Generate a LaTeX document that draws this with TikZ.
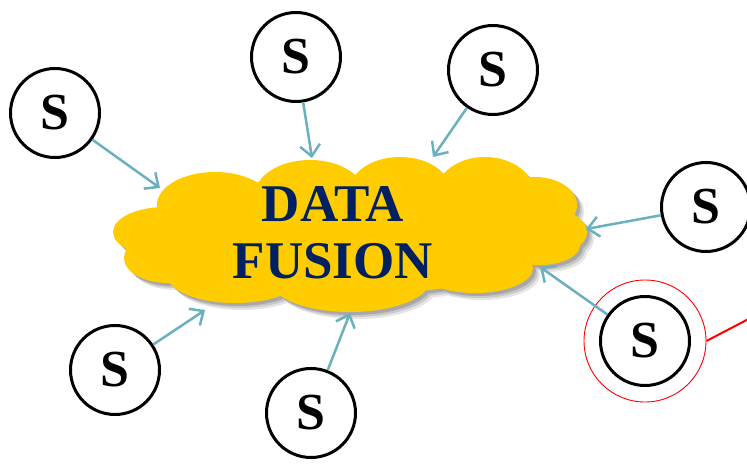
\documentclass[tikz,border=0pt]{standalone}
\usepackage{fontspec}
\setmainfont{Liberation Serif}
\usetikzlibrary{arrows.meta}
\definecolor{cloudyellow}{HTML}{FFCC00}
\definecolor{navy}{HTML}{002060}
\definecolor{feed}{HTML}{6BB0BE}

% the cloud is a union of overlapping ellipses
\newcommand\cloudparts{
  (350,-235) ellipse [x radius=200, y radius=60]
  (165,-232) ellipse [x radius=52, y radius=25]
  (215,-205) ellipse [x radius=58, y radius=33]
  (310,-195) ellipse [x radius=55, y radius=35]
  (400,-190) ellipse [x radius=50, y radius=33]
  (485,-195) ellipse [x radius=50, y radius=38]
  (535,-205) ellipse [x radius=42, y radius=28]
  (553,-232) ellipse [x radius=34, y radius=22]
  (540,-245) ellipse [x radius=40, y radius=20]
  (475,-268) ellipse [x radius=58, y radius=25]
  (350,-280) ellipse [x radius=80, y radius=32]
  (235,-275) ellipse [x radius=68, y radius=28]
  (168,-258) ellipse [x radius=44, y radius=25]
}

\begin{document}
\begin{tikzpicture}[x=1pt,y=1pt,
  sensor/.style={circle,draw=black,line width=3pt,fill=white,minimum size=89pt,
    inner sep=0pt,font=\fontsize{52}{52}\selectfont\bfseries},
  feedarrow/.style={draw=feed,line width=2.5pt,-{Straight Barb[length=11pt,width=20pt]}},
  ]
\clip (0,0) rectangle (747,-465);
\fill[white] (0,0) rectangle (747,-465);

% soft shadow below the cloud
\begin{scope}[transparency group,opacity=0.10,shift={(7,-7)}]
  \fill[black] \cloudparts;
\end{scope}
\begin{scope}[transparency group,opacity=0.12,shift={(5,-5)}]
  \fill[black] \cloudparts;
\end{scope}
\begin{scope}[transparency group,opacity=0.16,shift={(3,-3)}]
  \fill[black] \cloudparts;
\end{scope}
\fill[cloudyellow] \cloudparts;

\node[font=\fontsize{53}{57}\selectfont\bfseries,text=navy,align=center]
  (fusion) at (333,-233) {DATA\\FUSION};

% sensors
\node[sensor] (s1) at (55,-113) {S};
\node[sensor] (s2) at (296,-57) {S};
\node[sensor] (s3) at (493,-70) {S};
\node[sensor] (s4) at (706,-207) {S};
\node[sensor] (s5) at (645,-341) {S};
\node[sensor] (s6) at (115,-370) {S};
\node[sensor] (s7) at (311,-413) {S};

% highlight ring round one sensor
\node[circle,draw=red,line width=0.9pt,minimum size=122pt,inner sep=0pt] (ring) at (645,-341) {};
\coordinate (redend) at (760,-313);
\draw[red,line width=2pt] (ring.east) -- (redend);

% arrow ends on the cloud edge
\coordinate (e1) at (160,-188);
\coordinate (e2) at (312,-158);
\coordinate (e3) at (433,-157);
\coordinate (e4) at (586,-229);
\coordinate (e5) at (540,-267);
\coordinate (e6) at (205,-310);
\coordinate (e7) at (350,-313);

\draw[feedarrow] (s1) -- (e1);
\draw[feedarrow] (s2) -- (e2);
\draw[feedarrow] (s3) -- (e3);
\draw[feedarrow] (s4) -- (e4);
\draw[feedarrow] (s5) -- (e5);
\draw[feedarrow] (s6) -- (e6);
\draw[feedarrow] (s7) -- (e7);
\end{tikzpicture}
\end{document}
